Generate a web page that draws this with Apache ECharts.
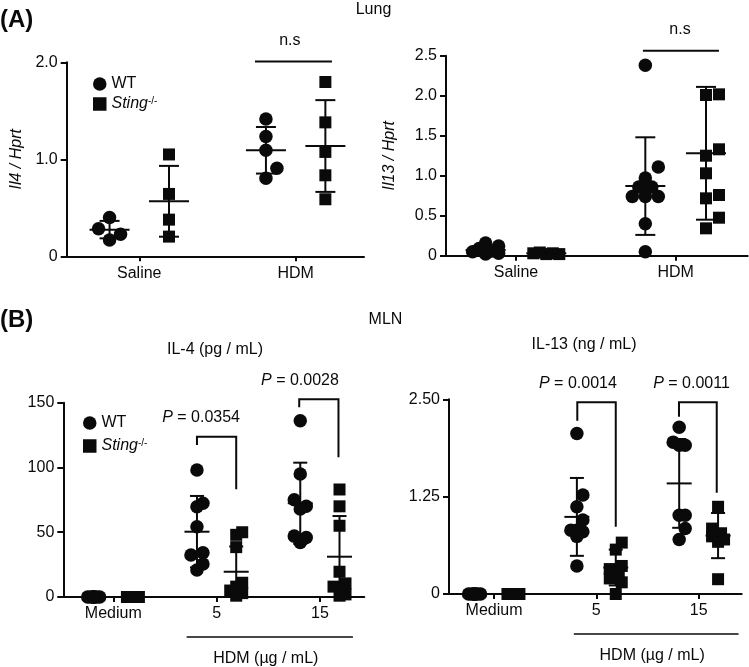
<!DOCTYPE html>
<html><head><meta charset="utf-8">
<script src="https://cdn.jsdelivr.net/npm/echarts@6/dist/echarts.min.js"></script>
<style>html,body{margin:0;padding:0;background:#fff}#c{width:749px;height:667px}</style>
</head><body><div id="c"></div>
<script>
// ================= DATA =================
const lungCats = ['Saline', 'HDM'];
const mlnCats = ['Medium', '5', '15'];
const seriesNames = ['WT', 'Sting-/-'];

// (A) Lung, Il4 / Hprt  (one inner list per category)
const il4WT = [[0.40, 0.285, 0.227, 0.168], [1.416, 1.234, 1.093, 0.907, 0.804]];
const il4KO = [[1.05, 0.643, 0.378, 0.203], [1.797, 1.381, 1.076, 0.835, 0.588]];
const il4WTMean = [0.275, 1.093], il4WTSD = [0.09, 0.24];
const il4KOMean = [0.567, 1.137], il4KOSD = [0.365, 0.473];

// (A) Lung, Il13 / Hprt
const il13WT = [[0.02, 0.05, 0.09, 0.12, 0.16, 0.06, 0.03], [2.38, 1.11, 0.97, 0.86, 0.86, 0.74, 0.74, 0.74, 0.40, 0.05]];
const il13KO = [[0.02, 0.03, 0.04, 0.02, 0.03], [2.017, 2.009, 1.33, 1.25, 1.03, 0.717, 0.759, 0.475, 0.342]];
const il13WTMean = [0.07, 0.87], il13WTSD = [0.05, 0.61];
const il13KOMean = [0.03, 1.28], il13KOSD = [0.01, 0.83];

// (B) MLN, IL-4 (pg / mL)
const mIl4WT = [[0, 0, 0, 0, 0, 0, 0, 0], [98, 72.3, 69.7, 54.3, 34.2, 32.4, 25.5, 20.8], [136, 95, 75, 70, 68, 47, 46, 42]];
const mIl4KO = [[0, 0, 0, 0, 0, 0, 0, 0], [50, 48, 38.5, 11, 8, 5, 3, 1], [83, 70, 55, 19.5, 10.5, 8, 2, 1]];
const mIl4WTMean = [0, 50.4, 72.4], mIl4WTSD = [0, 27.6, 31.3];
const mIl4KOMean = [0, 19.5, 31.1], mIl4KOSD = [0, 19.5, 31.4];

// (B) MLN, IL-13 (ng / mL)
const mIl13WT = [[0, 0, 0, 0, 0, 0, 0, 0], [2.06, 1.27, 1.12, 0.95, 0.82, 0.82, 0.80, 0.74, 0.36], [2.14, 1.95, 1.91, 1.91, 1.01, 1.01, 0.84, 0.70]];
const mIl13KO = [[0, 0, 0, 0, 0, 0, 0, 0], [0.66, 0.57, 0.36, 0.32, 0.28, 0.20, 0.15, 0.0], [1.12, 0.84, 0.78, 0.74, 0.70, 0.67, 0.19]];
const mIl13WTMean = [0, 0.99, 1.42], mIl13WTSD = [0, 0.50, 0.57];
const mIl13KOMean = [0, 0.34, 0.75], mIl13KOSD = [0, 0.23, 0.29];

// y-axis tick values
const il4Ticks = [0, 1, 2];
const il13Ticks = [0, 0.5, 1, 1.5, 2, 2.5];
const mIl4Ticks = [0, 50, 100, 150];
const mIl13Ticks = [0, 1.25, 2.5];

// significance annotations: [xLeft, xRight, yTop, yLeftEnd, yRightEnd, textX]
const nsA1 = [[1.74, 2.232, 2.007, 2.007, 2.007, 1.963]];
const nsA2 = [[1.795, 2.271, 2.5625, 2.5625, 2.5625, 2.027]];
const pB1 = [[1.81, 2.19, 123.7, 117.3, 83.1, 1.85], [2.80, 3.18, 152.6, 146.4, 107.8, 2.807]];
const pB2 = [[1.814, 2.19, 2.461, 2.225, 0.864, 1.82], [2.808, 3.177, 2.461, 2.276, 1.30, 2.93]];
const pTextB1 = ['0.0354', '0.0028'];
const pTextB2 = ['0.0014', '0.0011'];
const hdmSpanB1 = [1.71, 3.32];
const hdmSpanB2 = [1.78, 3.39];

// ================= LAYOUT / STYLE =================
const FONT = "'Liberation Sans', Arial, sans-serif";
const INK = '#0a0a0a';
const GROUP_OFF = 0.19;
const panels = [
  { left: 66.7, top: 62.3, width: 297.3, height: 194, xMin: 0.536, xMax: 2.437, yMax: 2, yInt: 1, maxOff: 11, meanHW: 20, capHW: 10, ticks: il4Ticks,
    cats: lungCats, wt: il4WT, ko: il4KO, wtM: il4WTMean, wtS: il4WTSD, koM: il4KOMean, koS: il4KOSD,
    fmt: v => v === 0 ? '0' : v.toFixed(1), name: 'Il4 / Hprt', nameGap: 42, br: nsA1, brText: ['n.s'], italicP: false },
  { left: 446, top: 55.7, width: 301.7, height: 200, xMin: 0.562, xMax: 2.451, yMax: 2.5, yInt: 0.5, maxOff: 13, meanHW: 20, capHW: 10, ticks: il13Ticks,
    cats: lungCats, wt: il13WT, ko: il13KO, wtM: il13WTMean, wtS: il13WTSD, koM: il13KOMean, koS: il13KOSD,
    fmt: v => v === 0 ? '0' : v.toFixed(1), name: 'Il13 / Hprt', nameGap: 48, br: nsA2, brText: ['n.s'], italicP: false },
  { left: 63.3, top: 402.7, width: 301, height: 194.3, xMin: 0.516, xMax: 3.430, yMax: 150, yInt: 50, maxOff: 6, meanHW: 12.5, capHW: 7, ticks: mIl4Ticks,
    cats: mlnCats, wt: mIl4WT, ko: mIl4KO, wtM: mIl4WTMean, wtS: mIl4WTSD, koM: mIl4KOMean, koS: mIl4KOSD,
    fmt: v => String(v), name: '', nameGap: 0, br: pB1, brText: pTextB1, italicP: true, hdm: hdmSpanB1 },
  { left: 449, top: 399.3, width: 292.7, height: 194.7, xMin: 0.56, xMax: 3.421, yMax: 2.5, yInt: 1.25, maxOff: 6, meanHW: 12.5, capHW: 7, ticks: mIl13Ticks,
    cats: mlnCats, wt: mIl13WT, ko: mIl13KO, wtM: mIl13WTMean, wtS: mIl13WTSD, koM: mIl13KOMean, koS: mIl13KOSD,
    fmt: v => v === 0 ? '0' : v.toFixed(2), name: '', nameGap: 0, br: pB2, brText: pTextB2, italicP: true, hdm: hdmSpanB2 }
];

// beeswarm-like horizontal spreading of overlapping points (pixel space)
function swarm(values, center, p, D) {
  const pxX = p.width / (p.xMax - p.xMin), pxY = p.height / p.yMax;
  const order = values.map((v, i) => i).sort((a, b) => values[a] - values[b]);
  const placed = [], res = new Array(values.length);
  const m = p.maxOff, cands = [0, m, -m, m / 2, -m / 2];
  order.forEach(i => {
    const py = values[i] * pxY;
    let best = 0, bestD = -1;
    for (const c of cands) {
      let md = Infinity;
      for (const q of placed) md = Math.min(md, Math.hypot(c - q.dx, py - q.py));
      if (md >= D) { best = c; break; }
      if (md > bestD) { bestD = md; best = c; }
    }
    placed.push({ dx: best, py });
    res[i] = [center + best / pxX, values[i]];
  });
  return res;
}

const grid = [], xAxis = [], yAxis = [], series = [];
const lineStyle = { color: INK, width: 2 };
const txt = { fontFamily: FONT, fontSize: 16, color: INK };

panels.forEach((p, k) => {
  grid.push({ left: p.left, top: p.top, width: p.width, height: p.height });
  const catVals = p.cats.map((c, i) => i + 1);
  xAxis.push({
    gridIndex: k, type: 'value', min: p.xMin, max: p.xMax,
    axisLine: { show: true, onZero: false, lineStyle },
    axisTick: { show: true, customValues: catVals, length: 5, lineStyle },
    axisLabel: { customValues: catVals, formatter: v => p.cats[Math.round(v) - 1], margin: 9, ...txt },
    splitLine: { show: false }
  });
  yAxis.push({
    gridIndex: k, type: 'value', min: 0, max: p.yMax, interval: p.yInt,
    axisLine: { show: true, onZero: false, lineStyle },
    axisTick: { show: true, length: 6, lineStyle },
    axisLabel: { formatter: p.fmt, margin: 9, ...txt },
    splitLine: { show: false },
    name: p.name, nameLocation: 'middle', nameGap: p.nameGap, nameRotate: 90,
    nameTextStyle: { ...txt, fontStyle: 'italic' }
  });
  // scatter points
  const wtPts = [], koPts = [];
  p.wt.forEach((vals, g) => swarm(vals, g + 1 - GROUP_OFF, p, 12.5).forEach(d => wtPts.push(d)));
  p.ko.forEach((vals, g) => swarm(vals, g + 1 + GROUP_OFF, p, 12).forEach(d => koPts.push(d)));
  series.push({ name: seriesNames[0], type: 'scatter', xAxisIndex: k, yAxisIndex: k, symbol: 'circle', symbolSize: 13.5,
    itemStyle: { color: INK, opacity: 1 }, data: wtPts, clip: false, z: 3, emphasis: { disabled: true } });
  series.push({ name: seriesNames[1], type: 'scatter', xAxisIndex: k, yAxisIndex: k, symbol: 'rect', symbolSize: 12,
    itemStyle: { color: INK, opacity: 1 }, data: koPts, clip: false, z: 3, emphasis: { disabled: true } });
  // error bars (mean ± SD)
  const eb = [];
  p.wtM.forEach((m, g) => eb.push([g + 1 - GROUP_OFF, m, p.wtS[g]]));
  p.koM.forEach((m, g) => eb.push([g + 1 + GROUP_OFF, m, p.koS[g]]));
  series.push({
    type: 'custom', xAxisIndex: k, yAxisIndex: k, data: eb, z: 4, silent: true,
    renderItem: (params, api) => {
      const x = api.value(0), m = api.value(1), sd = api.value(2);
      const c = api.coord([x, m]);
      const top = api.coord([x, m + sd]);
      const loV = m - sd;
      const lo = api.coord([x, Math.max(loV, 0)]);
      const ls = { stroke: INK, lineWidth: 2 };
      const ch = [
        { type: 'line', shape: { x1: c[0] - p.meanHW, y1: c[1], x2: c[0] + p.meanHW, y2: c[1] }, style: ls },
        { type: 'line', shape: { x1: c[0], y1: lo[1], x2: c[0], y2: top[1] }, style: ls },
        { type: 'line', shape: { x1: c[0] - p.capHW, y1: top[1], x2: c[0] + p.capHW, y2: top[1] }, style: ls }
      ];
      if (loV >= 0) ch.push({ type: 'line', shape: { x1: c[0] - p.capHW, y1: lo[1], x2: c[0] + p.capHW, y2: lo[1] }, style: ls });
      return { type: 'group', children: ch };
    }
  });
  // significance brackets
  series.push({
    type: 'custom', xAxisIndex: k, yAxisIndex: k, data: p.br, z: 4, silent: true, clip: false,
    renderItem: (params, api) => {
      const i = params.dataIndex;
      const tl = api.coord([api.value(0), api.value(2)]);
      const tr = api.coord([api.value(1), api.value(2)]);
      const le = api.coord([api.value(0), api.value(3)]);
      const re = api.coord([api.value(1), api.value(4)]);
      const tx = api.coord([api.value(5), api.value(2)]);
      const ls = { stroke: INK, lineWidth: 2, fill: null };
      const label = p.italicP ? '{i|P} = ' + p.brText[i] : p.brText[i];
      return { type: 'group', children: [
        { type: 'polyline', shape: { points: [le, tl, tr, re] }, style: ls },
        { type: 'text', x: tx[0], y: tl[1] - (p.italicP ? 19 : 21), style: {
          text: label, fill: INK, fontFamily: FONT, fontSize: 16, align: 'center', verticalAlign: 'middle',
          rich: { i: { fontStyle: 'italic', fontFamily: FONT, fontSize: 16, fill: INK } } } }
      ] };
    }
  });
  // HDM dose group line under x axis
  if (p.hdm) {
    series.push({
      type: 'custom', xAxisIndex: k, yAxisIndex: k, data: [p.hdm], z: 4, silent: true, clip: false,
      renderItem: (params, api) => {
        const a = api.coord([api.value(0), 0]);
        const b = api.coord([api.value(1), 0]);
        const y = a[1] + 40;
        return { type: 'group', children: [
          { type: 'line', shape: { x1: a[0], y1: y, x2: b[0], y2: y }, style: { stroke: INK, lineWidth: 1.5 } },
          { type: 'text', x: (a[0] + b[0]) / 2 - 4, y: y + 22, style: { text: 'HDM (µg / mL)', fill: INK, fontFamily: FONT, fontSize: 16, align: 'center', verticalAlign: 'middle' } }
        ] };
      }
    });
  }
});

const legendBase = {
  orient: 'vertical', itemWidth: 13.5, itemHeight: 13.5,
  data: [{ name: seriesNames[0], icon: 'circle' }, { name: seriesNames[1], icon: 'rect' }],
  formatter: n => n === 'WT' ? 'WT' : '{it|Sting}{sup|-/-}',
  textStyle: { ...txt, lineHeight: 16, rich: {
    it: { fontStyle: 'italic', fontFamily: FONT, fontSize: 16, color: INK },
    sup: { fontFamily: FONT, fontSize: 10, color: INK, verticalAlign: 'top' } } },
  itemStyle: { opacity: 1 },
  selectedMode: false
};

const titleText = (t, x, y, extra) => ({ type: 'text', x, y, style: Object.assign({ text: t, fill: INK, fontFamily: FONT, fontSize: 16, align: 'center', verticalAlign: 'middle' }, extra || {}) });

const option = {
  animation: false,
  backgroundColor: '#fff',
  grid, xAxis, yAxis, series,
  legend: [
    Object.assign({}, legendBase, { left: 88, top: 71, itemGap: 4 }),
    Object.assign({}, legendBase, { left: 78, top: 410, itemGap: 7 })
  ],
  graphic: [
    titleText('(A)', 0, 20, { fontSize: 24, fontWeight: 'bold', align: 'left' }),
    titleText('(B)', 0, 320, { fontSize: 24, fontWeight: 'bold', align: 'left' }),
    titleText('Lung', 373.5, 10),
    titleText('MLN', 385.5, 320),
    titleText('IL-4 (pg / mL)', 215, 350),
    titleText('IL-13 (ng / mL)', 584, 345)
  ]
};

const chart = echarts.init(document.getElementById('c'), null, { renderer: 'canvas' });
chart.setOption(option);
</script></body></html>
